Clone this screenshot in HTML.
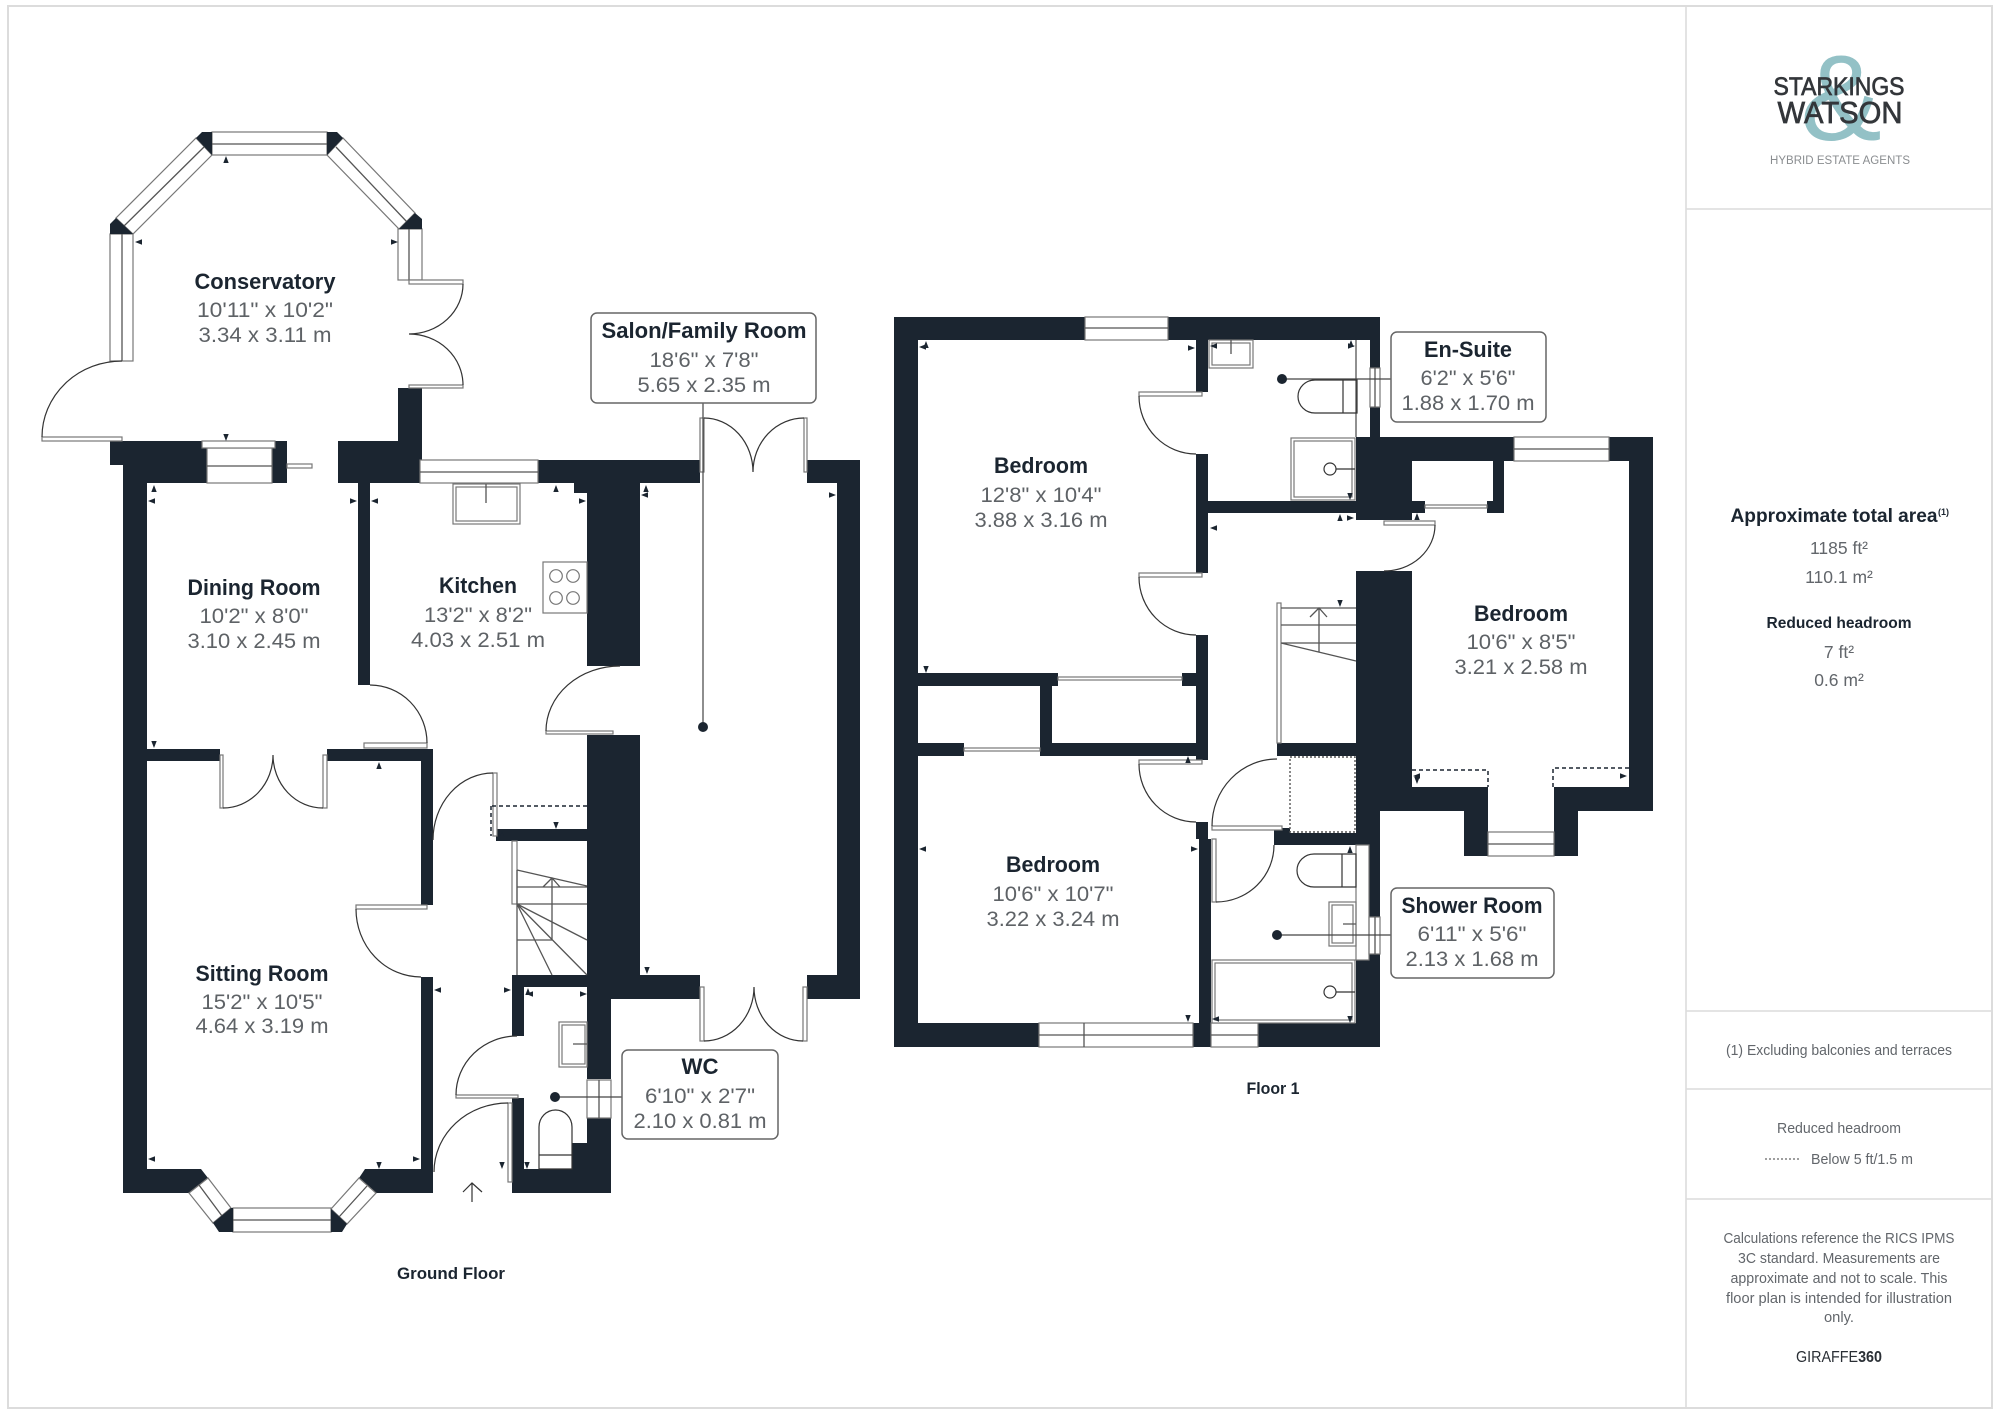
<!DOCTYPE html>
<html lang="en"><head><meta charset="utf-8"><title>Floor plan</title>
<style>
html,body{margin:0;padding:0;background:#fff}
svg{display:block}
text{font-family:"Liberation Sans",sans-serif}
.t{font-weight:700;font-size:22px;fill:#1b2530;text-anchor:middle}
.d{font-size:21px;fill:#5e6266;text-anchor:middle}
.s{font-size:15px;fill:#62666b;text-anchor:middle}
.w{fill:#1b2530}
.g{fill:#fff;stroke:#777;stroke-width:1.2}
.l{fill:none;stroke:#555;stroke-width:1.3}
.a{fill:none;stroke:#333;stroke-width:1.2}
.b{fill:#fff;stroke:#666;stroke-width:1.5}
</style></head><body>
<svg xmlns="http://www.w3.org/2000/svg" width="2000" height="1415" viewBox="0 0 2000 1415">
<defs>
<polygon id="u" points="0,-4 2.7,3 -2.7,3" fill="#1b2530"/>
<polygon id="o" points="0,4 2.7,-3 -2.7,-3" fill="#1b2530"/>
<polygon id="p" points="-4,0 3,-2.7 3,2.7" fill="#1b2530"/>
<polygon id="q" points="4,0 -3,-2.7 -3,2.7" fill="#1b2530"/>
</defs>
<rect width="2000" height="1415" fill="#fff"/>
<!-- frame -->
<rect x="8" y="6" width="1984" height="1402" fill="none" stroke="#dcdcdc" stroke-width="2"/>
<path d="M1686 6V1408M1686 209H1992M1686 1011H1992M1686 1089H1992M1686 1199H1992" fill="none" stroke="#dcdcdc" stroke-width="1.6"/>

<!-- conservatory windows -->
<g class="g">
<rect x="212" y="132" width="115" height="23"/>
<polygon points="196,138 212,155 133,234 116,218"/>
<polygon points="343,138 415,213 399,229 327,155"/>
<rect x="110" y="234" width="23" height="127"/>
<rect x="398" y="229" width="24" height="51"/>
</g>
<path class="l" d="M212 144H327M204 147L124 226M336 147L407 222M122 234V361M409 229V280"/>
<g class="w">
<polygon points="202,132 212,132 212,155 196,138"/>
<polygon points="327,132 337,132 343,138 327,155"/>
<polygon points="116,218 133,234 110,234 110,224"/>
<polygon points="415,213 422,219 422,229 399,229"/>
</g>
<!-- ground floor walls -->
<path class="w" d="M110 441H207V483H147V1169H201L208 1178L189 1193H123V465H110Z
M272 441H287V483H272Z
M338 441H398V388H422V460H420V483H370V685H358V483H338Z
M538 460H700V483H640V666H587V493H574V483H538Z
M807 460H860V999H807V975H837V483H807Z
M587 735H640V975H700V999H611V1079H587V841H496V829H587Z
M147 749H220V761H147Z
M327 749H433V905H421V761H327Z
M421 977H433V1193H376L359 1178L365 1169H421Z
M512 975H587V987H524V1036H512Z
M512 1098H524V1169H572V1143H587V1118H611V1193H512Z"/>
<!-- ground floor windows -->
<g class="g">
<rect x="207" y="448" width="65" height="35"/>
<rect x="202" y="441" width="73" height="7"/>
<rect x="287" y="464" width="25" height="4"/>
<rect x="420" y="460" width="118" height="23"/>
<polygon points="208,1178 231,1208 213,1223 189,1193"/>
<rect x="233" y="1208" width="98" height="24"/>
<polygon points="331,1209 359,1178 376,1193 347,1224"/>
<rect x="587" y="1080" width="24" height="38"/>
</g>
<path class="l" d="M207 466H272M420 472H538M199 1185L222 1216M233 1220H331M339 1217L367 1186M599 1080V1118"/>
<g class="w">
<polygon points="231,1208 233,1208 233,1232 219,1232 213,1223"/>
<polygon points="331,1209 347,1224 342,1232 331,1232"/>
</g>
<!-- door panels ground -->
<g class="g">
<rect x="409" y="280" width="54" height="4"/>
<rect x="409" y="385" width="54" height="3"/>
<rect x="42" y="437" width="80" height="4"/>
<rect x="700" y="418" width="4" height="54"/>
<rect x="804" y="418" width="3" height="54"/>
<rect x="546" y="731" width="67" height="3"/>
<rect x="364" y="743" width="63" height="5"/>
<rect x="220" y="755" width="3" height="53"/>
<rect x="323" y="755" width="4" height="53"/>
<rect x="493" y="773" width="4" height="63"/>
<rect x="356" y="905" width="71" height="4"/>
<rect x="508" y="1103" width="4" height="79"/>
<rect x="456" y="1095" width="62" height="3"/>
<rect x="700" y="987" width="4" height="54"/>
<rect x="803" y="987" width="4" height="54"/>
<rect x="512" y="841" width="5" height="63"/>
</g>
<path class="a" d="M463 284A54 50 0 0 1 409 334M409 334A54 51 0 0 1 463 385M122 361A80 76 0 0 0 42 437
M704 418A49 54 0 0 1 753 472M804 418A51 54 0 0 0 753 472
M620 666A74 65 0 0 0 546 731M370 685A57 58 0 0 1 427 743
M223 808A50 53 0 0 0 273 755M323 808A50 53 0 0 1 273 755
M433 840A60 67 0 0 1 493 773M356 909A65 68 0 0 0 421 977
M434 1172A74 69 0 0 1 508 1103M517 1036A61 59 0 0 0 456 1095
M704 1041A50 54 0 0 0 754 987M803 1041A49 54 0 0 1 754 987
M472 1202V1183M463 1192L472 1183L482 1192"/>
<!-- stairs ground -->
<path class="l" d="M517 870V975M517 870L587 886M517 887H587M517 904H587M517 940H552M552 878V940M543 887L552 878L560 887M517 904L587 940M517 904L587 975M517 904L552 975"/>
<path d="M492 806H587M491 806V836" fill="none" stroke="#1b2530" stroke-width="1.5" stroke-dasharray="4 3"/>
<!-- kitchen fixtures -->
<g class="g">
<rect x="453" y="484" width="67" height="40"/>
<rect x="456" y="487" width="61" height="34"/>
<rect x="543" y="562" width="44" height="51"/>
<circle cx="556" cy="576" r="6.3"/><circle cx="573" cy="576" r="6.3"/>
<circle cx="556" cy="598" r="6.3"/><circle cx="573" cy="598" r="6.3"/>
<rect x="559" y="1022" width="28" height="45"/>
<rect x="562" y="1025" width="23" height="39"/>
</g>
<path class="l" d="M486 484V503M573 1044H587"/>
<path class="a" d="M539 1169V1127A16.5 17 0 0 1 572 1127V1169ZM539 1155H572"/>

<!-- floor 1 walls -->
<path class="w" d="M894 317H1085V340H918V673H1058V686H918V743H964V756H918V1023H1039V1047H894Z
M1168 317H1380V368H1370V340H1208V392H1196V340H1168Z
M1196 454H1208V573H1196Z M1208 501H1356V513H1208Z
M1356 437H1514V461H1412V501H1425V513H1412V520H1356Z M1370 407H1380V437H1370Z
M1493 461H1504V513H1487V501H1493Z
M1609 437H1653V811H1578V856H1554V787H1629V461H1609Z
M1356 571H1412V787H1488V856H1464V811H1380V845H1356Z
M1369 845H1380V917H1369Z M1369 954H1380V1047H1258V1023H1356V960H1369Z
M1196 635H1208V760H1196Z M1182 673H1196V686H1182Z
M1040 686H1052V743H1208V756H1040Z
M1277 743H1356V756H1277Z
M1196 822H1208V839H1211V1047H1193V1023H1199V839H1196Z
M1274 833H1356V845H1274Z M1274 828H1290V833H1274Z"/>
<!-- floor 1 windows -->
<g class="g">
<rect x="1085" y="317" width="83" height="23"/>
<rect x="1370" y="368" width="10" height="39"/>
<rect x="1514" y="437" width="95" height="24"/>
<rect x="1488" y="832" width="66" height="24"/>
<rect x="1039" y="1023" width="154" height="24"/>
<rect x="1211" y="1023" width="47" height="24"/>
<rect x="1369" y="917" width="11" height="37"/>
</g>
<path class="l" d="M1085 328H1168M1375 368V407M1514 449H1609M1488 844H1554M1039 1035H1193M1084 1023V1047M1211 1035H1258M1375 917V954"/>
<!-- sliding doors -->
<g class="g">
<rect x="1058" y="677" width="124" height="3"/>
<rect x="964" y="748" width="76" height="3"/>
<rect x="1425" y="505" width="62" height="3"/>
</g>
<!-- floor 1 door panels -->
<g class="g">
<rect x="1139" y="392" width="63" height="4"/>
<rect x="1139" y="573" width="63" height="4"/>
<rect x="1139" y="760" width="63" height="4"/>
<rect x="1384" y="521" width="51" height="4"/>
<rect x="1212" y="826" width="70" height="4"/>
<rect x="1212" y="839" width="4" height="63"/>
<rect x="1277" y="603" width="4" height="140"/>
</g>
<path class="a" d="M1139 396A57 58 0 0 0 1196 454M1139 577A57 58 0 0 0 1196 635M1139 764A57 58 0 0 0 1196 822
M1435 525A51 46 0 0 1 1384 571M1277 759A65 67 0 0 0 1212 826M1216 902A58 57 0 0 0 1274 845"/>
<!-- stairs F1 -->
<path class="l" d="M1281 608H1356M1281 625H1356M1281 643H1356M1281 643L1356 661M1319 608V652M1310 617L1319 608L1327 617"/>
<!-- dotted squares and headroom -->
<rect x="1290" y="757" width="65" height="75" fill="none" stroke="#555" stroke-width="1.4" stroke-dasharray="2 2"/>
<path d="M1412 770H1488V787M1629 768H1553V787" fill="none" stroke="#1b2530" stroke-width="1.5" stroke-dasharray="4 3"/>
<!-- bathrooms -->
<g class="g">
<rect x="1209" y="340" width="44" height="28"/><rect x="1212" y="343" width="38" height="22"/>
<rect x="1291" y="438" width="64" height="62"/><rect x="1294" y="441" width="58" height="56"/>
<rect x="1329" y="902" width="27" height="44"/><rect x="1332" y="905" width="21" height="38"/>
<rect x="1212" y="960" width="143" height="63"/><rect x="1215" y="963" width="137" height="57"/>
<rect x="1356" y="845" width="13" height="115" fill="none"/>
</g>
<path class="l" d="M1356 340V437M1231 340V354M1343 924H1356"/>
<path class="a" d="M1357 380H1315A17 16.5 0 0 0 1315 413H1357ZM1343 380V413M1356 854H1314A17 16.5 0 0 0 1314 887H1356ZM1342 854V887"/>
<g class="a"><circle cx="1330" cy="469" r="6"/><circle cx="1330" cy="992" r="6"/></g>
<path class="a" d="M1336 469H1355M1336 992H1355"/>

<!-- tick marks -->
<use href="#u" x="226" y="160"/><use href="#p" x="139" y="242"/><use href="#q" x="394" y="242"/><use href="#o" x="226" y="437"/>
<use href="#u" x="154" y="489"/><use href="#p" x="152" y="501"/><use href="#q" x="353" y="501"/><use href="#p" x="375" y="501"/>
<use href="#o" x="154" y="744"/><use href="#u" x="556" y="489"/><use href="#q" x="582" y="501"/><use href="#u" x="379" y="766"/>
<use href="#o" x="556" y="825"/><use href="#u" x="502" y="835"/>
<use href="#u" x="646" y="489"/><use href="#p" x="645" y="495"/><use href="#q" x="832" y="495"/><use href="#o" x="647" y="970"/>
<use href="#p" x="152" y="1159"/><use href="#q" x="416" y="1159"/><use href="#o" x="379" y="1165"/>
<use href="#p" x="438" y="990"/><use href="#q" x="507" y="990"/><use href="#u" x="528" y="992"/><use href="#p" x="530" y="994"/><use href="#q" x="583" y="994"/>
<use href="#o" x="527" y="1165"/><use href="#o" x="502" y="1165"/>
<use href="#u" x="926" y="345"/><use href="#p" x="923" y="347"/><use href="#q" x="1191" y="348"/><use href="#o" x="926" y="669"/>
<use href="#p" x="1214" y="346"/><use href="#q" x="1351" y="346"/><use href="#u" x="1351" y="344"/><use href="#o" x="1350" y="496"/>
<use href="#u" x="1340" y="518"/><use href="#q" x="1350" y="518"/><use href="#p" x="1214" y="528"/><use href="#o" x="1340" y="603"/>
<use href="#p" x="923" y="849"/><use href="#q" x="1194" y="849"/><use href="#o" x="1188" y="1018"/><use href="#u" x="1188" y="760"/>
<use href="#u" x="1350" y="850"/><use href="#p" x="1216" y="1019"/><use href="#o" x="1350" y="1019"/>
<use href="#u" x="1417" y="517"/><use href="#p" x="1417" y="776"/><use href="#o" x="1417" y="780"/><use href="#q" x="1623" y="776"/>

<!-- leader lines and dots -->
<path d="M703 403V727M555 1097H622M1282 379H1391M1277 935H1391" fill="none" stroke="#444" stroke-width="1.2"/>
<g class="w">
<circle cx="703" cy="727" r="5"/><circle cx="555" cy="1097" r="5"/><circle cx="1282" cy="379" r="5"/><circle cx="1277" cy="935" r="5"/>
</g>
<!-- label boxes -->
<rect class="b" x="591" y="313" width="225" height="90" rx="6" fill="#fff"/>
<rect class="b" x="622" y="1050" width="156" height="89" rx="6"/>
<rect class="b" x="1391" y="332" width="155" height="90" rx="6"/>
<rect class="b" x="1391" y="888" width="163" height="90" rx="6"/>

<!-- room labels -->
<text class="t" x="265" y="289" textLength="141" lengthAdjust="spacingAndGlyphs">Conservatory</text>
<text class="d" x="265" y="317" textLength="136" lengthAdjust="spacingAndGlyphs">10'11" x 10'2"</text>
<text class="d" x="265" y="342" textLength="133" lengthAdjust="spacingAndGlyphs">3.34 x 3.11 m</text>

<text class="t" x="254" y="595" textLength="133" lengthAdjust="spacingAndGlyphs">Dining Room</text>
<text class="d" x="254" y="623" textLength="109" lengthAdjust="spacingAndGlyphs">10'2" x 8'0"</text>
<text class="d" x="254" y="648" textLength="133" lengthAdjust="spacingAndGlyphs">3.10 x 2.45 m</text>

<text class="t" x="478" y="593" textLength="78" lengthAdjust="spacingAndGlyphs">Kitchen</text>
<text class="d" x="478" y="622" textLength="108" lengthAdjust="spacingAndGlyphs">13'2" x 8'2"</text>
<text class="d" x="478" y="647" textLength="134" lengthAdjust="spacingAndGlyphs">4.03 x 2.51 m</text>

<text class="t" x="262" y="981" textLength="133" lengthAdjust="spacingAndGlyphs">Sitting Room</text>
<text class="d" x="262" y="1009" textLength="121" lengthAdjust="spacingAndGlyphs">15'2" x 10'5"</text>
<text class="d" x="262" y="1033" textLength="133" lengthAdjust="spacingAndGlyphs">4.64 x 3.19 m</text>

<text class="t" x="704" y="338" textLength="205" lengthAdjust="spacingAndGlyphs">Salon/Family Room</text>
<text class="d" x="704" y="367" textLength="109" lengthAdjust="spacingAndGlyphs">18'6" x 7'8"</text>
<text class="d" x="704" y="392" textLength="133" lengthAdjust="spacingAndGlyphs">5.65 x 2.35 m</text>

<text class="t" x="700" y="1074" textLength="37" lengthAdjust="spacingAndGlyphs">WC</text>
<text class="d" x="700" y="1103" textLength="110" lengthAdjust="spacingAndGlyphs">6'10" x 2'7"</text>
<text class="d" x="700" y="1128" textLength="133" lengthAdjust="spacingAndGlyphs">2.10 x 0.81 m</text>

<text class="t" x="1041" y="473" textLength="94" lengthAdjust="spacingAndGlyphs">Bedroom</text>
<text class="d" x="1041" y="502" textLength="121" lengthAdjust="spacingAndGlyphs">12'8" x 10'4"</text>
<text class="d" x="1041" y="527" textLength="133" lengthAdjust="spacingAndGlyphs">3.88 x 3.16 m</text>

<text class="t" x="1053" y="872" textLength="94" lengthAdjust="spacingAndGlyphs">Bedroom</text>
<text class="d" x="1053" y="901" textLength="121" lengthAdjust="spacingAndGlyphs">10'6" x 10'7"</text>
<text class="d" x="1053" y="926" textLength="133" lengthAdjust="spacingAndGlyphs">3.22 x 3.24 m</text>

<text class="t" x="1521" y="621" textLength="94" lengthAdjust="spacingAndGlyphs">Bedroom</text>
<text class="d" x="1521" y="649" textLength="109" lengthAdjust="spacingAndGlyphs">10'6" x 8'5"</text>
<text class="d" x="1521" y="674" textLength="133" lengthAdjust="spacingAndGlyphs">3.21 x 2.58 m</text>

<text class="t" x="1468" y="357" textLength="88" lengthAdjust="spacingAndGlyphs">En-Suite</text>
<text class="d" x="1468" y="385" textLength="95" lengthAdjust="spacingAndGlyphs">6'2" x 5'6"</text>
<text class="d" x="1468" y="410" textLength="133" lengthAdjust="spacingAndGlyphs">1.88 x 1.70 m</text>

<text class="t" x="1472" y="913" textLength="141" lengthAdjust="spacingAndGlyphs">Shower Room</text>
<text class="d" x="1472" y="941" textLength="109" lengthAdjust="spacingAndGlyphs">6'11" x 5'6"</text>
<text class="d" x="1472" y="966" textLength="133" lengthAdjust="spacingAndGlyphs">2.13 x 1.68 m</text>

<text class="t" x="451" y="1279" style="font-size:17px" textLength="108" lengthAdjust="spacingAndGlyphs">Ground Floor</text>
<text class="t" x="1273" y="1094" style="font-size:17px" textLength="53" lengthAdjust="spacingAndGlyphs">Floor 1</text>

<!-- logo -->
<text x="1841" y="140" font-size="122" fill="#93c1c6" text-anchor="middle">&amp;</text>
<text x="1839" y="95" font-size="25" fill="#33363a" stroke="#33363a" stroke-width=".7" text-anchor="middle" textLength="131" lengthAdjust="spacingAndGlyphs">STARKINGS</text>
<text x="1840" y="123" font-size="31" fill="#33363a" stroke="#33363a" stroke-width=".7" text-anchor="middle" textLength="125" lengthAdjust="spacingAndGlyphs">WATSON</text>
<text x="1840" y="164" font-size="11.5" fill="#8a8d90" text-anchor="middle" textLength="140" lengthAdjust="spacing">HYBRID ESTATE AGENTS</text>

<!-- sidebar -->
<text class="t" x="1834" y="522" style="font-size:19px" textLength="207" lengthAdjust="spacingAndGlyphs">Approximate total area</text>
<text x="1938" y="515" font-size="9" fill="#1b2530" font-weight="700">(1)</text>
<text class="s" x="1839" y="554" style="font-size:17.5px">1185 ft²</text>
<text class="s" x="1839" y="583" style="font-size:17.5px">110.1 m²</text>
<text class="t" x="1839" y="628" style="font-size:16px" textLength="145" lengthAdjust="spacingAndGlyphs">Reduced headroom</text>
<text class="s" x="1839" y="658" style="font-size:17.5px">7 ft²</text>
<text class="s" x="1839" y="686" style="font-size:17.5px">0.6 m²</text>
<text class="s" x="1839" y="1055" textLength="226" lengthAdjust="spacingAndGlyphs">(1) Excluding balconies and terraces</text>
<text class="s" x="1839" y="1133" textLength="124" lengthAdjust="spacingAndGlyphs">Reduced headroom</text>
<path d="M1765 1159H1799" stroke="#666" stroke-width="1.2" stroke-dasharray="2 2" fill="none"/>
<text class="s" x="1862" y="1164" textLength="102" lengthAdjust="spacingAndGlyphs">Below 5 ft/1.5 m</text>
<text class="s" x="1839" y="1243" textLength="231" lengthAdjust="spacingAndGlyphs">Calculations reference the RICS IPMS</text>
<text class="s" x="1839" y="1263" textLength="202" lengthAdjust="spacingAndGlyphs">3C standard. Measurements are</text>
<text class="s" x="1839" y="1283" textLength="217" lengthAdjust="spacingAndGlyphs">approximate and not to scale. This</text>
<text class="s" x="1839" y="1303" textLength="226" lengthAdjust="spacingAndGlyphs">floor plan is intended for illustration</text>
<text class="s" x="1839" y="1322" textLength="30" lengthAdjust="spacingAndGlyphs">only.</text>
<text x="1796" y="1362" font-size="16" fill="#2a2f35" textLength="86" lengthAdjust="spacingAndGlyphs">GIRAFFE<tspan font-weight="700">360</tspan></text>
</svg>
</body></html>
